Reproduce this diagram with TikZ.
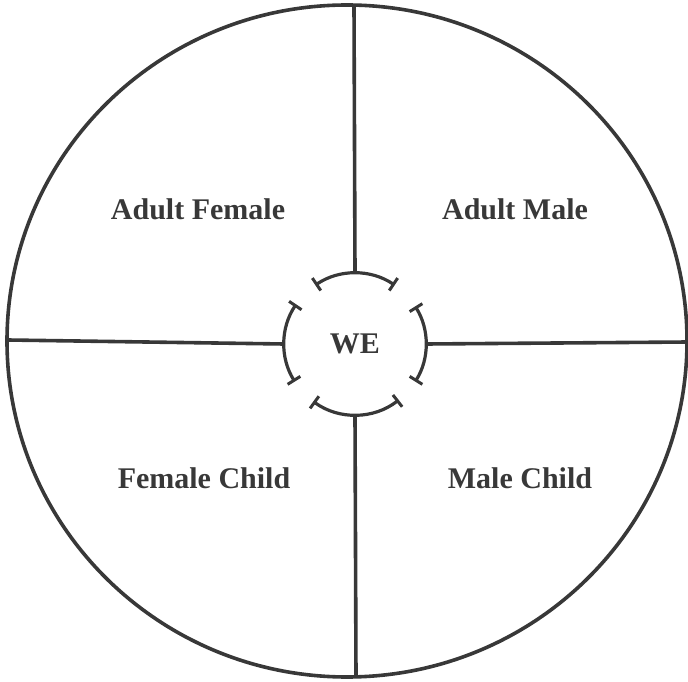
\documentclass[tikz,border=0pt]{standalone}
\usepackage{fontspec}
\setmainfont{Liberation Serif}
\usetikzlibrary{shapes.geometric,arrows.meta}
\definecolor{ink}{HTML}{383838}
\tikzset{
  rim/.style={draw=ink, line width=3.6pt},
  spoke/.style={draw=ink, line width=3.6pt},
  wearc/.style={draw=ink, line width=3.2pt, {Bar[width=15pt,line width=3pt]}-{Bar[width=15pt,line width=3pt]}},
  label/.style={text=ink, font=\fontsize{30}{33}\selectfont\bfseries, inner sep=0pt}
}
\begin{document}
\begin{tikzpicture}[x=1pt,y=1pt]
\useasboundingbox (0,0) rectangle (688,681);
\node[ellipse, rim, minimum width=680pt, minimum height=672pt, inner sep=0pt] (outer) at (347,340) {};
\node[circle, minimum size=142pt, inner sep=0pt, label] (we) at (355,337) {WE};
\coordinate (T) at (354,676);
\coordinate (B) at (356,4);
\coordinate (L) at (8,341);
\coordinate (R) at (688,339);
\draw[spoke] (T) -- (we.north);
\draw[spoke] (we.south) -- (B);
\draw[spoke] (L) -- (we.west);
\draw[spoke] (we.east) -- (R);
\draw[wearc] ([shift={(56:71)}]we.center) arc[start angle=56, end angle=124, radius=71];
\draw[wearc] ([shift={(146:71)}]we.center) arc[start angle=146, end angle=212, radius=71];
\draw[wearc] ([shift={(234:71)}]we.center) arc[start angle=234, end angle=308, radius=71];
\draw[wearc] ([shift={(-32:71)}]we.center) arc[start angle=-32, end angle=32, radius=71];
\node[label] (af) at (198,472) {Adult Female};
\node[label] (am) at (515,472) {Adult Male};
\node[label] (fc) at (204,203) {Female Child};
\node[label] (mc) at (520,203) {Male Child};
\end{tikzpicture}
\end{document}
